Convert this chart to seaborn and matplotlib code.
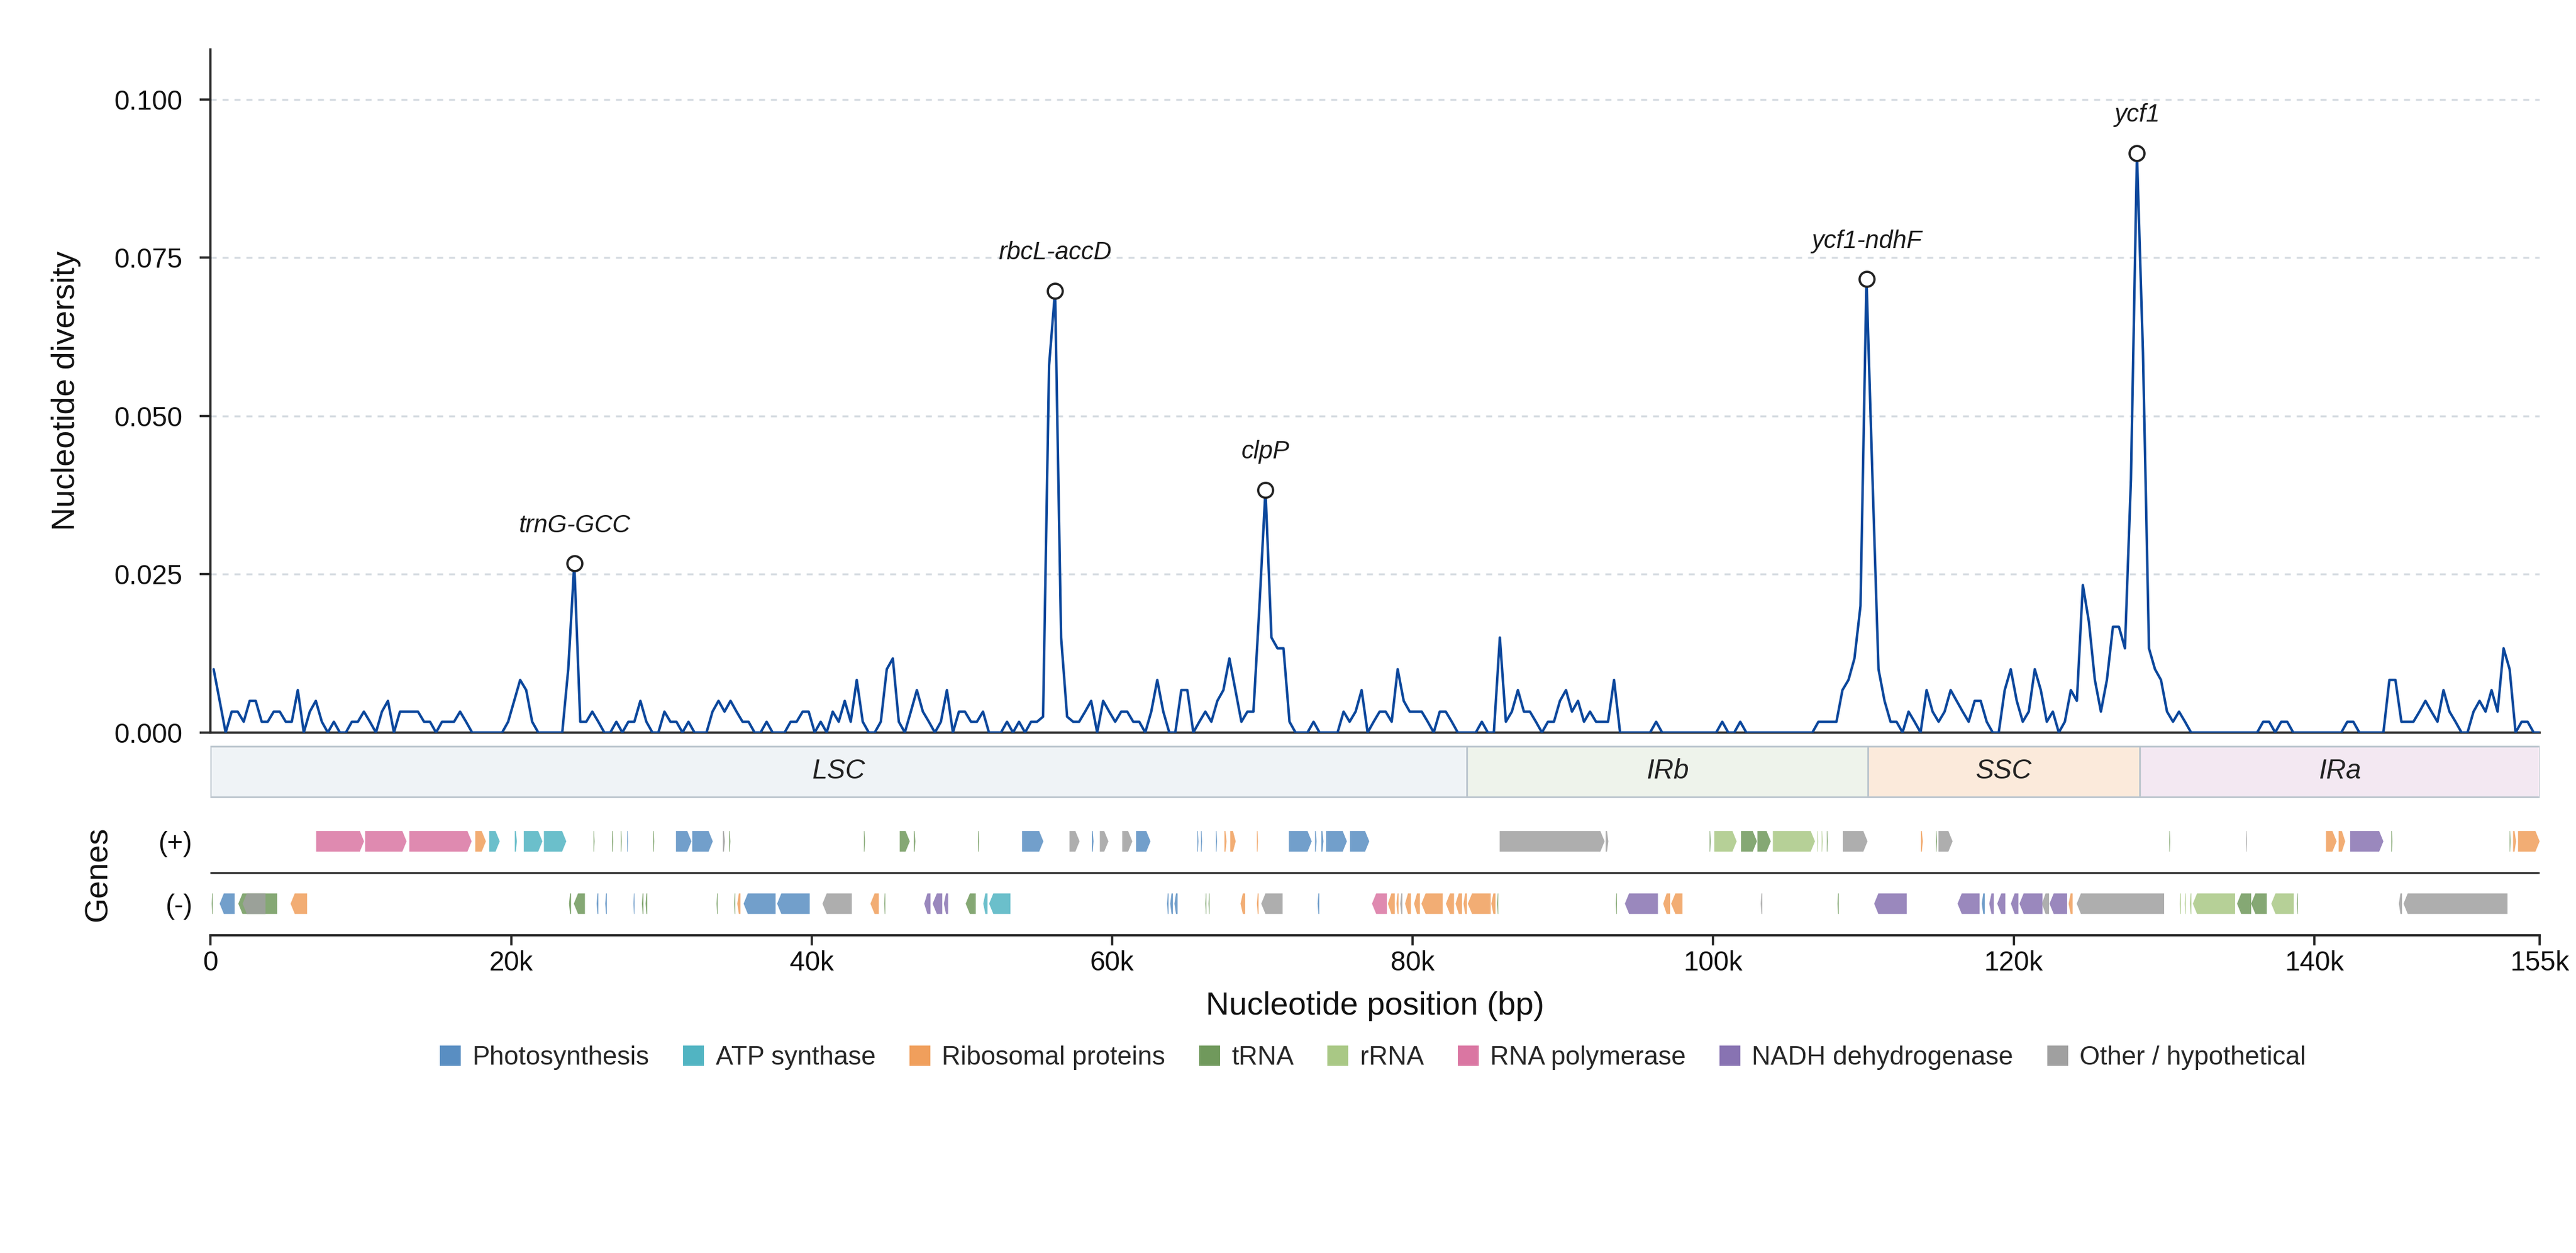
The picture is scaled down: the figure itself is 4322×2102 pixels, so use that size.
import numpy as np
import pandas as pd
import matplotlib
matplotlib.use("Agg")
import matplotlib.pyplot as plt
from matplotlib.patches import Polygon, Rectangle, Patch
from matplotlib.ticker import FormatStrFormatter
import seaborn as sns

sns.set_theme(style="ticks")
plt.rcParams["font.family"] = ["Liberation Sans", "DejaVu Sans"]

# ---------------- data ----------------
WINDOW_STEP = 400
FIRST_CENTER = 200
GENOME_LEN = 155000

diversity = [
    0.0100, 0.0050, 0, 0.0033, 0.0033, 0.0017, 0.0050, 0.0050, 0.0017, 0.0017,
    0.0033, 0.0033, 0.0017, 0.0017, 0.0067, 0, 0.0033, 0.0050, 0.0017, 0,
    0.0017, 0, 0, 0.0017, 0.0017, 0.0033, 0.0017, 0, 0.0033, 0.0050,
    0, 0.0033, 0.0033, 0.0033, 0.0033, 0.0017, 0.0017, 0, 0.0017, 0.0017,
    0.0017, 0.0033, 0.0017, 0, 0, 0, 0, 0, 0, 0.0017,
    0.0050, 0.0083, 0.0067, 0.0017, 0, 0, 0, 0, 0, 0.0100,
    0.0267, 0.0017, 0.0017, 0.0033, 0.0017, 0, 0, 0.0017, 0, 0.0017,
    0.0017, 0.0050, 0.0017, 0, 0, 0.0033, 0.0017, 0.0017, 0, 0.0017,
    0, 0, 0, 0.0033, 0.0050, 0.0033, 0.0050, 0.0033, 0.0017, 0.0017,
    0, 0, 0.0017, 0, 0, 0, 0.0017, 0.0017, 0.0033, 0.0033,
    0, 0.0017, 0, 0.0033, 0.0017, 0.0050, 0.0017, 0.0083, 0.0017, 0,
    0, 0.0017, 0.0100, 0.0117, 0.0017, 0, 0.0033, 0.0067, 0.0033, 0.0017,
    0, 0.0017, 0.0067, 0, 0.0033, 0.0033, 0.0017, 0.0017, 0.0033, 0,
    0, 0, 0.0017, 0, 0.0017, 0, 0.0017, 0.0017, 0.0025, 0.0580,
    0.0698, 0.0150, 0.0025, 0.0017, 0.0017, 0.0033, 0.0050, 0, 0.0050, 0.0033,
    0.0017, 0.0033, 0.0033, 0.0017, 0.0017, 0, 0.0033, 0.0083, 0.0033, 0,
    0, 0.0067, 0.0067, 0, 0.0017, 0.0033, 0.0017, 0.0050, 0.0067, 0.0117,
    0.0067, 0.0017, 0.0033, 0.0033, 0.0200, 0.0383, 0.0150, 0.0133, 0.0133, 0.0017,
    0, 0, 0, 0.0017, 0, 0, 0, 0, 0.0033, 0.0017,
    0.0033, 0.0067, 0, 0.0017, 0.0033, 0.0033, 0.0017, 0.0100, 0.0050, 0.0033,
    0.0033, 0.0033, 0.0017, 0, 0.0033, 0.0033, 0.0017, 0, 0, 0,
    0, 0.0017, 0, 0, 0.0150, 0.0017, 0.0033, 0.0067, 0.0033, 0.0033,
    0.0017, 0, 0.0017, 0.0017, 0.0050, 0.0067, 0.0033, 0.0050, 0.0017, 0.0033,
    0.0017, 0.0017, 0.0017, 0.0083, 0, 0, 0, 0, 0, 0,
    0.0017, 0, 0, 0, 0, 0, 0, 0, 0, 0,
    0, 0.0017, 0, 0, 0.0017, 0, 0, 0, 0, 0,
    0, 0, 0, 0, 0, 0, 0, 0.0017, 0.0017, 0.0017,
    0.0017, 0.0067, 0.0083, 0.0117, 0.0200, 0.0716, 0.0400, 0.0100, 0.0050, 0.0017,
    0.0017, 0, 0.0033, 0.0017, 0, 0.0067, 0.0033, 0.0017, 0.0033, 0.0067,
    0.0050, 0.0033, 0.0017, 0.0050, 0.0050, 0.0017, 0, 0, 0.0067, 0.0100,
    0.0050, 0.0017, 0.0033, 0.0100, 0.0067, 0.0017, 0.0033, 0, 0.0017, 0.0067,
    0.0050, 0.0233, 0.0175, 0.0083, 0.0033, 0.0083, 0.0167, 0.0167, 0.0133, 0.0400,
    0.0915, 0.0600, 0.0133, 0.0100, 0.0083, 0.0033, 0.0017, 0.0033, 0.0017, 0,
    0, 0, 0, 0, 0, 0, 0, 0, 0, 0,
    0, 0.0017, 0.0017, 0, 0.0017, 0.0017, 0, 0, 0, 0,
    0, 0, 0, 0, 0, 0.0017, 0.0017, 0, 0, 0,
    0, 0, 0.0083, 0.0083, 0.0017, 0.0017, 0.0017, 0.0033, 0.0050, 0.0033,
    0.0017, 0.0067, 0.0033, 0.0017, 0, 0, 0.0033, 0.0050, 0.0033, 0.0067,
    0.0033, 0.0133, 0.0100, 0, 0.0017, 0.0017, 0, 0,
]
window_centers = FIRST_CENTER + WINDOW_STEP * np.arange(len(diversity))

peak_labels = ["trnG-GCC", "rbcL-accD", "clpP", "ycf1-ndhF", "ycf1"]
peak_positions = [24200, 56200, 70200, 110200, 128200]

region_names = ["LSC", "IRb", "SSC", "IRa"]
region_starts = [0, 83600, 110300, 128400]
region_ends = [83600, 110300, 128400, 155000]
region_colors = ["#eff3f6", "#eef3eb", "#fbeadb", "#f3e8f2"]

categories = ["Photosynthesis", "ATP synthase", "Ribosomal proteins", "tRNA",
              "rRNA", "RNA polymerase", "NADH dehydrogenase", "Other / hypothetical"]
category_codes = ["PS", "ATP", "RP", "TR", "RR", "RNAP", "NDH", "OTH"]
category_colors = ["#598ec2", "#51b4c2", "#f09f5c", "#70995c",
                   "#a9c885", "#da76a2", "#8873b2", "#a0a0a0"]

plus_start = [7020, 10280, 13220, 17610, 18540, 20240, 20840, 22180, 25480, 26720,
              27300, 27720, 29450, 30970, 32050, 34090, 34510, 43480, 45860, 46800,
              51070, 54000, 57160, 58650, 59180, 60670, 61590, 65670, 65910, 66910,
              67470, 67860, 69630, 71760, 73500, 73920, 74240, 75830, 85790, 92840,
              99760, 100070, 101850, 102940, 103970, 106930, 107220, 107560, 108630, 113820,
              114820, 114990, 130350, 135470, 140780, 141620, 142390, 145130, 153000, 153230,
              153560]
plus_end = [10210, 13040, 17370, 18320, 19240, 20380, 22080, 23670, 25550, 26790,
            27360, 27780, 29520, 32000, 33420, 34230, 34590, 43550, 46530, 46900,
            51140, 55420, 57830, 58760, 59750, 61340, 62550, 65740, 65980, 66980,
            67610, 68220, 69700, 73280, 73600, 74060, 75620, 77110, 92770, 93020,
            99830, 101560, 102910, 103830, 106770, 106980, 107280, 107620, 110270, 113950,
            114890, 115930, 130410, 135530, 141490, 142060, 144600, 145200, 153060, 153430,
            155000]
plus_cat = ["RNAP", "RNAP", "RNAP", "RP", "ATP", "ATP", "ATP", "ATP", "TR", "TR",
            "TR", "PS", "TR", "PS", "PS", "OTH", "TR", "TR", "TR", "TR",
            "TR", "PS", "OTH", "PS", "OTH", "OTH", "PS", "PS", "PS", "PS",
            "RP", "RP", "RP", "PS", "PS", "PS", "PS", "PS", "OTH", "OTH",
            "TR", "RR", "TR", "TR", "RR", "RR", "RR", "TR", "OTH", "RP",
            "TR", "OTH", "TR", "OTH", "RP", "RP", "NDH", "TR", "TR", "RP",
            "RP"]

minus_start = [70, 600, 1840, 2130, 5320, 23850, 24170, 25690, 26260, 28140,
               28700, 28950, 33670, 34840, 35050, 35470, 37700, 40720, 43910, 44830,
               47490, 48050, 48800, 50250, 51420, 51810, 63650, 63860, 64140, 66200,
               66410, 68540, 69630, 69920, 73670, 77290, 78350, 78920, 79170, 79490,
               80090, 80580, 82210, 82850, 83380, 83670, 85230, 85620, 93520, 94120,
               96670, 97200, 103160, 108270, 110710, 116260, 117870, 118370, 118900, 119810,
               120380, 121880, 122380, 123650, 124190, 131050, 131380, 131720, 131920, 134860,
               135800, 137140, 138840, 145630, 145940]
minus_end = [140, 1600, 4430, 3650, 6420, 23990, 24910, 25800, 26370, 28210,
             28800, 29060, 33740, 34910, 35260, 37600, 39870, 42670, 44470, 44900,
             47910, 48690, 49080, 50920, 51700, 53230, 63750, 64040, 64350, 66270,
             66480, 68850, 69740, 71340, 73780, 78280, 78810, 79060, 79310, 79880,
             80480, 82000, 82750, 83280, 83600, 85190, 85510, 85690, 93590, 96320,
             97130, 97950, 103260, 108350, 112880, 117730, 118070, 118670, 119440, 120310,
             121910, 122350, 123550, 123920, 130010, 131120, 131450, 131820, 134730, 135800,
             136840, 138640, 138910, 145840, 152860]
minus_cat = ["TR", "PS", "TR", "OTH", "RP", "TR", "TR", "PS", "PS", "PS",
             "TR", "TR", "TR", "TR", "RP", "PS", "PS", "OTH", "RP", "TR",
             "NDH", "NDH", "NDH", "TR", "ATP", "ATP", "PS", "PS", "PS", "TR",
             "TR", "RP", "RP", "OTH", "PS", "RNAP", "RP", "RP", "OTH", "RP",
             "RP", "RP", "RP", "RP", "RP", "RP", "RP", "TR", "TR", "NDH",
             "RP", "RP", "OTH", "TR", "NDH", "NDH", "PS", "NDH", "NDH", "NDH",
             "NDH", "OTH", "NDH", "RP", "OTH", "RR", "RR", "RR", "RR", "TR",
             "TR", "RR", "TR", "OTH", "OTH"]

xtick_values = [0, 20000, 40000, 60000, 80000, 100000, 120000, 140000, 155000]
xtick_labels = ["0", "20k", "40k", "60k", "80k", "100k", "120k", "140k", "155k"]
ytick_values = [0.0, 0.025, 0.05, 0.075, 0.1]

# ---------------- figure ----------------
W, H = 4322, 2102
fig = plt.figure(figsize=(W / 300, H / 300), dpi=300)
ax = fig.add_axes([0.08177, 0.41540, 0.90412, 0.54512])
gx = fig.add_axes([0.08177, 0.25357, 0.90412, 0.15414])

dark = "#262626"

df = pd.DataFrame({"pos": window_centers, "pi": diversity})
sns.lineplot(data=df, x="pos", y="pi", ax=ax, color="#0b479c", linewidth=1.0, zorder=3)
ax.set_xlim(0, GENOME_LEN)
ax.set_ylim(0, 0.1079)
ax.set_yticks(ytick_values)
ax.yaxis.set_major_formatter(FormatStrFormatter("%.3f"))
ax.set_xticks([])
ax.set_xlabel("")
for s in ["top", "right"]:
    ax.spines[s].set_visible(False)
for s in ["left", "bottom"]:
    ax.spines[s].set_color(dark)
    ax.spines[s].set_linewidth(0.9)
ax.tick_params(axis="y", left=True, length=4.3, width=0.9, color=dark, pad=7,
               labelsize=11, labelcolor="#111111")
ax.grid(axis="y", linestyle=(0, (3, 3)), color="#d5dbe1", linewidth=0.8)
ax.grid(axis="x", visible=False)
ax.set_axisbelow(True)
ax.set_ylabel("Nucleotide diversity", fontsize=13, color="#111111")
ax.yaxis.set_label_coords(-0.0556, 0.5)

pos_arr = np.asarray(window_centers)
div_arr = np.asarray(diversity)
for name, p in zip(peak_labels, peak_positions):
    i0 = int(np.argmin(np.abs(pos_arr - p)))
    lo, hi = max(i0 - 3, 0), min(i0 + 4, len(div_arr))
    i = lo + int(np.argmax(div_arr[lo:hi]))
    px, py = pos_arr[i], div_arr[i]
    ax.plot([px], [py], marker="o", ms=6, mfc="white", mec="#222222", mew=0.9,
            linestyle="none", zorder=5)
    ax.annotate(name, (px, py), xytext=(0, 10.5), textcoords="offset points",
                ha="center", va="bottom", fontsize=10, style="italic", color="#1a1a1a")

# ---------------- gene panel ----------------
gx.set_xlim(0, GENOME_LEN)
gx.set_ylim(0, 324)
REG_Y0, REG_H = 231.7, 85.6
for n, s, e, c in zip(region_names, region_starts, region_ends, region_colors):
    gx.add_patch(Rectangle((s, REG_Y0), e - s, REG_H, facecolor=c,
                           edgecolor="#bcc6ce", linewidth=0.7, zorder=1))
    gx.text((s + e) / 2, REG_Y0 + REG_H / 2, n, ha="center", va="center",
            fontsize=11, style="italic", color="#222222", zorder=2)

gx.plot([0, GENOME_LEN], [105, 105], color="#333333", linewidth=0.8, zorder=2)

code_color = dict(zip(category_codes, category_colors))
TRACK_H = 17.3


def draw_gene(s, e, strand, yc, color):
    L = e - s
    head = min(280.0, 0.5 * L)
    if strand > 0:
        pts = [(s, yc - TRACK_H), (e - head, yc - TRACK_H), (e, yc),
               (e - head, yc + TRACK_H), (s, yc + TRACK_H)]
    else:
        pts = [(e, yc - TRACK_H), (s + head, yc - TRACK_H), (s, yc),
               (s + head, yc + TRACK_H), (e, yc + TRACK_H)]
    gx.add_patch(Polygon(pts, closed=True, facecolor=color, edgecolor="none",
                         alpha=0.85, zorder=3))


for s, e, c in zip(plus_start, plus_end, plus_cat):
    draw_gene(s, e, +1, 157.6, code_color[c])
for s, e, c in zip(minus_start, minus_end, minus_cat):
    draw_gene(s, e, -1, 53.0, code_color[c])

for s in ["top", "right", "left"]:
    gx.spines[s].set_visible(False)
gx.spines["bottom"].set_color(dark)
gx.spines["bottom"].set_linewidth(0.9)
gx.set_yticks([157.6, 53.0])
gx.set_yticklabels(["(+)", "(-)"])
gx.tick_params(axis="y", left=False, length=0, pad=7.4, labelsize=11, labelcolor="#111111")
gx.set_xticks(xtick_values)
gx.set_xticklabels(xtick_labels)
gx.tick_params(axis="x", bottom=True, length=4, width=0.9, color=dark, pad=2,
               labelsize=11, labelcolor="#111111")
gx.set_xlabel("Nucleotide position (bp)", fontsize=13, color="#111111")
gx.xaxis.set_label_coords(0.5, -0.289)
gx.set_ylabel("Genes", fontsize=13, color="#111111")
gx.yaxis.set_label_coords(-0.042, 0.316)

handles = [Patch(facecolor=c, edgecolor="none", label=n)
           for n, c in zip(categories, category_colors)]
fig.legend(handles=handles, loc="center", bbox_to_anchor=(0.533, 0.1558), ncol=8,
           frameon=False, fontsize=10.5, handlelength=0.8, handleheight=0.8,
           handletextpad=0.44, columnspacing=1.3)

fig.savefig("out.png", dpi=300, facecolor="white")
